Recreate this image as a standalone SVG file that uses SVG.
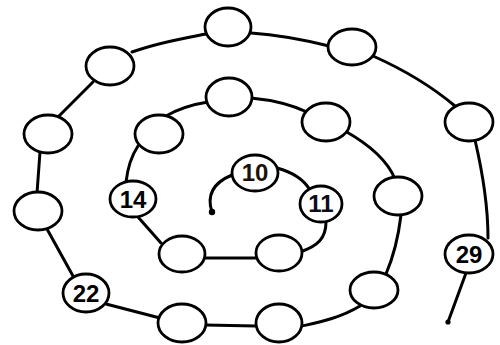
<svg xmlns="http://www.w3.org/2000/svg" width="500" height="345" viewBox="0 0 500 345">
<style>
.n{fill:#fff;stroke:#000;stroke-width:2.8}
.c{fill:none;stroke:#000;stroke-width:3;stroke-linecap:round}
.t{font-family:"Liberation Sans",Arial,sans-serif;font-weight:bold;font-size:24px;text-anchor:middle;fill:#000}
</style>
<rect width="500" height="345" fill="#fff"/>
<g id="connectors">
<path class="c" d="M212,212 C208,200 208,185 232,175"/>
<path class="c" d="M277,168 C292,172 304,180 310,190"/>
<path class="c" d="M326,222 C326,238 318,246 300,252"/>
<path class="c" d="M256,258 L205,258"/>
<path class="c" d="M161,243 L138,217"/>
<path class="c" d="M126,182 C128,165 132,155 138,146"/>
<path class="c" d="M166,116 C180,108 195,104 208,102"/>
<path class="c" d="M251,98 C272,100 292,105 307,112"/>
<path class="c" d="M345,131 C370,145 388,162 395,179"/>
<path class="c" d="M401,215 C398,240 392,260 386,274"/>
<path class="c" d="M360,306 C340,318 320,322 302,326"/>
<path class="c" d="M256,326 L205,325"/>
<path class="c" d="M160,318 L106,304"/>
<path class="c" d="M73,276 L47,229"/>
<path class="c" d="M37,193 L40,152"/>
<path class="c" d="M58,117 L93,82"/>
<path class="c" d="M132,52 C160,42 185,38 206,34"/>
<path class="c" d="M251,33 C280,35 305,40 329,46"/>
<path class="c" d="M373,56 C400,68 430,85 455,106"/>
<path class="c" d="M475,140 C482,170 488,205 488,238"/>
<path class="c" d="M466,273 L448,322"/>
<circle cx="212" cy="212" r="3.2" fill="#000"/>
<circle cx="448" cy="322" r="2.6" fill="#000"/>
</g>
<g id="n10"><ellipse class="n" cx="255" cy="173" rx="23" ry="18"/><text class="t" x="255" y="181" style="fill:#1a1208">10</text></g>
<g id="n11"><ellipse class="n" cx="321" cy="204" rx="21" ry="18"/><text class="t" x="321" y="212" style="fill:#0c0c1c">11</text></g>
<g id="n12"><ellipse class="n" cx="279" cy="253" rx="23" ry="18"/></g>
<g id="n13"><ellipse class="n" cx="182" cy="254" rx="23" ry="18"/></g>
<g id="n14"><ellipse class="n" cx="133" cy="199" rx="23" ry="18"/><text class="t" x="133" y="208">14</text></g>
<g id="n15"><ellipse class="n" cx="159" cy="134" rx="24" ry="19"/></g>
<g id="n16"><ellipse class="n" cx="229" cy="97" rx="23" ry="19"/></g>
<g id="n17"><ellipse class="n" cx="326" cy="122" rx="24" ry="19"/></g>
<g id="n18"><ellipse class="n" cx="398" cy="196" rx="24" ry="19"/></g>
<g id="n19"><ellipse class="n" cx="374" cy="290" rx="24" ry="18"/></g>
<g id="n20"><ellipse class="n" cx="279" cy="323" rx="23" ry="19"/></g>
<g id="n21"><ellipse class="n" cx="182" cy="323" rx="24" ry="19"/></g>
<g id="n22"><ellipse class="n" cx="86" cy="293" rx="23" ry="19"/><text class="t" x="86" y="302">22</text></g>
<g id="n23"><ellipse class="n" cx="38" cy="211" rx="24" ry="19"/></g>
<g id="n24"><ellipse class="n" cx="48" cy="134" rx="24" ry="19"/></g>
<g id="n25"><ellipse class="n" cx="110" cy="66" rx="24" ry="19"/></g>
<g id="n26"><ellipse class="n" cx="228" cy="27" rx="23" ry="19"/></g>
<g id="n27"><ellipse class="n" cx="352" cy="47" rx="24" ry="18"/></g>
<g id="n28"><ellipse class="n" cx="469" cy="122" rx="24" ry="19"/></g>
<g id="n29"><ellipse class="n" cx="469" cy="254" rx="24" ry="19"/><text class="t" x="469" y="263">29</text></g>
</svg>
